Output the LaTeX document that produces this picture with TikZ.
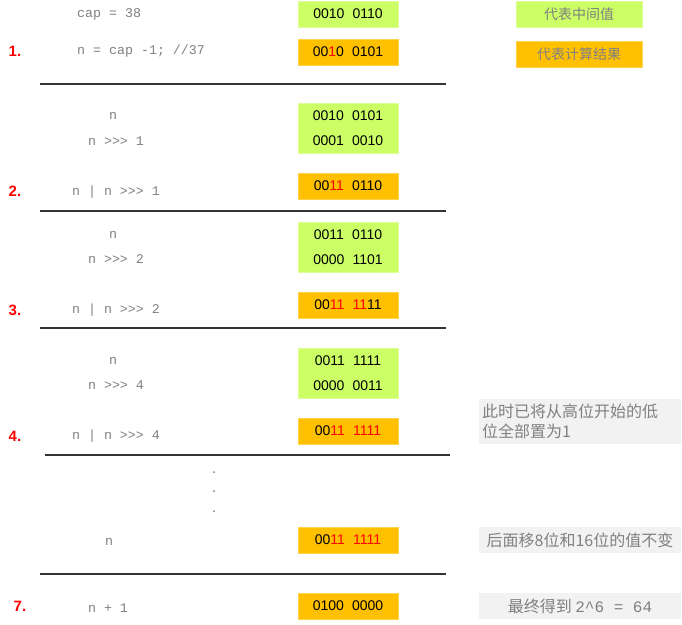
\documentclass[tikz,border=0pt]{standalone}
\usepackage{fontspec}
\setmainfont{Liberation Sans}
\setmonofont{Liberation Mono}
\newfontfamily\cjk{Noto Sans CJK SC}
\newfontfamily\binfont[WordSpace=2.1]{Liberation Sans}
\definecolor{midgreen}{HTML}{CCFF66}
\definecolor{resorange}{HTML}{FFC000}
\definecolor{notegray}{HTML}{F2F2F2}
\definecolor{codegray}{HTML}{808080}
\newcommand{\hl}[1]{\textcolor{red}{#1}}

\begin{document}
\begin{tikzpicture}[x=1pt,y=-1pt,
  code/.style={text=codegray,inner sep=0pt,font=\ttfamily\fontsize{13.3}{15}\selectfont},
  stepno/.style={text=red,inner sep=0pt,font=\bfseries\fontsize{15}{17}\selectfont},
  binbox/.style={minimum width=100pt,minimum height=26pt,inner sep=0pt,line width=0.8pt,
    align=center,font=\binfont\fontsize{14}{25}\selectfont},
  midbox/.style={binbox,fill=midgreen,draw=midgreen!70!white},
  resbox/.style={binbox,fill=resorange,draw=resorange!70!white},
  legend/.style={minimum width=126pt,minimum height=26pt,inner sep=0pt,text=codegray,
    font=\cjk\fontsize{14}{16}\selectfont},
  note/.style={fill=notegray,text=codegray,inner sep=0pt,minimum width=202pt,
    font=\cjk\fontsize{16}{20}\selectfont},
  sep/.style={draw=black!80,line width=1.2pt},
]
\useasboundingbox (0,0) rectangle (682,624);

\node[code,anchor=west] (cap) at (77,14) {cap = 38};
\node[midbox] (capbin) at (348,14) {0010 0110};
\node[stepno] (s1) at (15,51) {1.};
\node[code,anchor=west] (init) at (77,51) {n = cap -1; //37};
\node[resbox] (initbin) at (348,52) {00\hl{1}0 0101};

\node[legend,fill=midgreen,draw=midgreen!70!white] (legmid) at (579,14) {代表中间值};
\node[legend,fill=resorange,draw=resorange!70!white] (legres) at (579,54) {代表计算结果};

\draw[sep] (40,84) -- (446,84);

\node[code] (a1) at (113,116) {n};
\node[code] (b1) at (116,141) {n >>> 1};
\node[midbox,minimum height=50pt] (ab1bin) at (348,128) {0010 0101\\0001 0010};
\node[stepno] (s2) at (15,191) {2.};
\node[code] (c1) at (116,192) {n | n >>> 1};
\node[resbox] (c1bin) at (348,186) {00\hl{11} 0110};

\draw[sep] (40,211) -- (446,211);

\node[code] (a2) at (113,235) {n};
\node[code] (b2) at (116,259) {n >>> 2};
\node[midbox,minimum height=50pt] (ab2bin) at (348,247) {0011 0110\\0000 1101};
\node[stepno] (s3) at (15,310) {3.};
\node[code] (c2) at (116,310) {n | n >>> 2};
\node[resbox] (c2bin) at (348,305) {00\hl{11} \hl{11}11};

\draw[sep] (40,328) -- (446,328);

\node[code] (a4) at (113,361) {n};
\node[code] (b4) at (116,385) {n >>> 4};
\node[midbox,minimum height=50pt] (ab4bin) at (348,373) {0011 1111\\0000 0011};
\node[stepno] (s4) at (15,436) {4.};
\node[code] (c4) at (116,436) {n | n >>> 4};
\node[resbox] (c4bin) at (348,431) {00\hl{11 1111}};
\node[note,minimum height=45pt,align=left,text width=196pt] (note4) at (580,421.5)
  {此时已将从高位开始的低\\位全部置为1};

\draw[sep] (45,455) -- (450,455);

\foreach \y in {472,491,511}
  \fill[codegray] (214,\y) circle (1pt);

\node[code] (a16) at (109,542) {n};
\node[resbox] (c16bin) at (348,540) {00\hl{11 1111}};
\node[note,minimum height=26pt] (note16) at (580,540) {后面移8位和16位的值不变};

\draw[sep] (40,574) -- (446,574);

\node[stepno] (s7) at (20,606) {7.};
\node[code] (last) at (108,608) {n + 1};
\node[resbox] (lastbin) at (348,606) {0100 0000};
\node[note,minimum height=26pt] (note7) at (580,606) {最终得到 {\ttfamily 2\^{}6 = 64}};
\end{tikzpicture}
\end{document}
